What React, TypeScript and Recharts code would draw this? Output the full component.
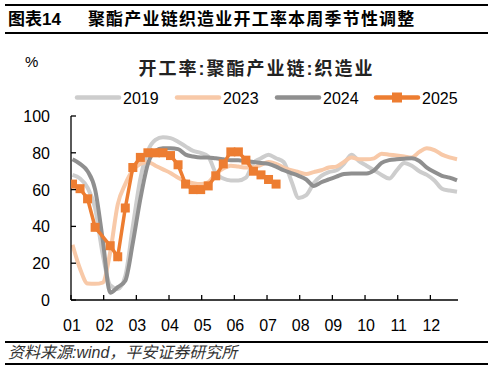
import React from "react";
import { LineChart, Line, XAxis, YAxis } from "recharts";

const MONTH_LABELS = ["01", "02", "03", "04", "05", "06", "07", "08", "09", "10", "11", "12"];
const Y_TICKS = [0, 20, 40, 60, 80, 100];

// weekly values, week 1..52
const Y2019 = [
  68, 66, 61, 50, 25, 8, 6, 13, 40, 66, 81, 87, 88.5, 88, 86, 83.5, 81, 80, 78, 69, 66, 65, 65, 66.5,
  74.5, 77, 79, 77, 75, 65, 55.5, 57, 63.5, 67.5, 69.5, 70.5, 74, 79, 75.5, 73, 70.5, 68, 66, 70.5,
  74.5, 73, 70, 68, 65, 60.5, 59.5, 58.8,
];
const Y2023 = [
  30, 17, 9, 8.8, 9.5, 26, 52, 63, 70.5, 74, 75, 73, 71, 69, 66.5, 64.5, 63.5, 63, 64, 68.5, 71.5, 73,
  72.5, 72, 72, 73.5, 75, 74, 72, 70.5, 69.5, 68.5, 69.5, 70.5, 72, 72.5, 75, 77.5, 76.5, 76.5, 77,
  79.5, 79, 78.5, 78, 77.5, 80.5, 82.5, 81.5, 79, 77.5, 76.5,
];
const Y2024 = [
  76.5, 74, 70, 60, 33, 4, 7, 10.5, 31, 55, 74, 81, 82.5, 82.5, 82, 79, 78, 77.5, 77.5, 77, 76.5, 76,
  76, 75.5, 75, 74.5, 74, 72.5, 70.5, 69, 67.5, 65.5, 62, 64, 65.5, 67, 68.5, 68.8, 68.8, 68.8, 70.5,
  74.5, 76, 76.5, 76.8, 77, 75.5, 72, 69.5, 67.5, 66.5, 65,
];
const Y2025 = [
  63, 60.5, 55, 39.5, null, 29.5, 23.5, 50, 72, 77.5, 80, 80, 80, 78.5, 73.5, 63, 60, 60, 62, 67.5, 74,
  80.5, 80.5, 76, 70, 68, 65.5, 63,
];

const data = Y2024.map((_, i) => ({
  week: i + 1,
  y2019: Y2019[i] ?? null,
  y2023: Y2023[i] ?? null,
  y2024: Y2024[i] ?? null,
  y2025: Y2025[i] ?? null,
}));

const X_START = 0.8;
const MONTH_TICKS = MONTH_LABELS.map((_, i) => X_START + (i * 52) / 12);

const C2019 = "#cdcdcd";
const C2023 = "#f8c9a8";
const C2024 = "#8f8f8f";
const C2025 = "#ed7d31";
const NUM_FONT = "'Liberation Sans', Arial, sans-serif";
const CJK_FONT = "'Liberation Sans', 'Noto Sans CJK SC', sans-serif";

const YTick = (props: any) => {
  const { x, y, payload } = props;
  return (
    <g>
      <line x1={x} y1={y} x2={x + 5} y2={y} stroke="#000" strokeWidth={1.3} />
      <text x={x - 21} y={y + 6} textAnchor="end" fontSize={16} fontFamily={NUM_FONT} fill="#000">
        {payload.value}
      </text>
    </g>
  );
};

const XTick = (props: any) => {
  const { x, y, index } = props;
  return (
    <g>
      <line x1={x} y1={y} x2={x} y2={y - 5} stroke="#000" strokeWidth={1.3} />
      <text x={x + 1} y={y + 31} textAnchor="middle" fontSize={16} fontFamily={NUM_FONT} fill="#000">
        {MONTH_LABELS[index]}
      </text>
    </g>
  );
};

const SquareDot = (props: any) => {
  const { cx, cy, index } = props;
  if (cx == null || cy == null) return <g key={index} />;
  return <rect key={index} x={cx - 4.5} y={cy - 4.5} width={9} height={9} fill={C2025} />;
};

const LEGEND = [
  { label: "2019", color: C2019, x: 77 },
  { label: "2023", color: C2023, x: 177 },
  { label: "2024", color: C2024, x: 277 },
  { label: "2025", color: C2025, x: 376, marker: true },
];

const rule = (top: number) => (
  <div style={{ position: "absolute", left: 5, top, width: 483, height: 2, background: "#000" }} />
);

export default function App() {
  return (
    <div style={{ position: "absolute", left: 0, top: 0, width: 493, height: 371, background: "#fff", overflow: "hidden" }}>
      {rule(4)}
      <div
        style={{
          position: "absolute",
          left: 8,
          top: 9,
          fontSize: 17,
          fontWeight: 700,
          fontFamily: CJK_FONT,
          color: "#000",
          whiteSpace: "nowrap",
          lineHeight: "22px",
        }}
      >
        图表14
        <span style={{ marginLeft: 27, letterSpacing: 1.2 }}>聚酯产业链织造业开工率本周季节性调整</span>
      </div>
      {rule(32)}

      <div style={{ position: "absolute", left: 25, top: 53, fontSize: 15, fontFamily: NUM_FONT, color: "#000" }}>%</div>
      <div
        style={{
          position: "absolute",
          left: 0,
          width: 493,
          top: 54,
          textAlign: "center",
          fontSize: 18,
          fontWeight: 700,
          letterSpacing: 2,
          fontFamily: CJK_FONT,
          color: "#222",
          whiteSpace: "nowrap",
          paddingLeft: 20,
          boxSizing: "border-box",
        }}
      >
        开工率:聚酯产业链:织造业
      </div>

      <svg style={{ position: "absolute", left: 0, top: 0 }} width={493} height={371}>
        {LEGEND.map((l) => (
          <g key={l.label}>
            <line x1={l.x} y1={97.5} x2={l.x + 42} y2={97.5} stroke={l.color} strokeWidth={4.5} strokeLinecap="round" />
            {l.marker && <rect x={l.x + 16} y={92.5} width={10} height={10} fill={l.color} />}
            <text x={l.x + 46} y={103.5} fontSize={16} fontFamily={NUM_FONT} fill="#000">
              {l.label}
            </text>
          </g>
        ))}
      </svg>

      <div style={{ position: "absolute", left: 0, top: 0 }}>
        <LineChart width={493} height={371} data={data} margin={{ top: 116, right: 35, left: 21, bottom: 41 }}>
          <XAxis
            dataKey="week"
            type="number"
            domain={[X_START, 52.13]}
            ticks={MONTH_TICKS}
            interval={0}
            tick={<XTick />}
            tickLine={false}
            tickSize={0}
            tickMargin={0}
            height={30}
            axisLine={{ stroke: "#000", strokeWidth: 1.3 }}
            allowDataOverflow
          />
          <YAxis
            domain={[0, 100]}
            ticks={Y_TICKS}
            interval={0}
            tick={<YTick />}
            tickLine={false}
            tickSize={0}
            tickMargin={0}
            width={50}
            axisLine={{ stroke: "#000", strokeWidth: 1.3 }}
          />
          <Line dataKey="y2019" type="monotone" stroke={C2019} strokeWidth={4} dot={false} isAnimationActive={false} />
          <Line dataKey="y2023" type="monotone" stroke={C2023} strokeWidth={4} dot={false} isAnimationActive={false} />
          <Line dataKey="y2024" type="monotone" stroke={C2024} strokeWidth={4} dot={false} isAnimationActive={false} />
          <Line
            dataKey="y2025"
            type="linear"
            stroke={C2025}
            strokeWidth={3.5}
            dot={<SquareDot />}
            connectNulls
            isAnimationActive={false}
          />
        </LineChart>
      </div>

      {rule(341)}
      <div
        style={{
          position: "absolute",
          left: 8,
          top: 343,
          fontSize: 16,
          fontStyle: "italic",
          fontFamily: CJK_FONT,
          color: "#333",
          whiteSpace: "nowrap",
          lineHeight: "20px",
        }}
      >
        资料来源:wind，平安证券研究所
      </div>
      {rule(363)}
    </div>
  );
}
